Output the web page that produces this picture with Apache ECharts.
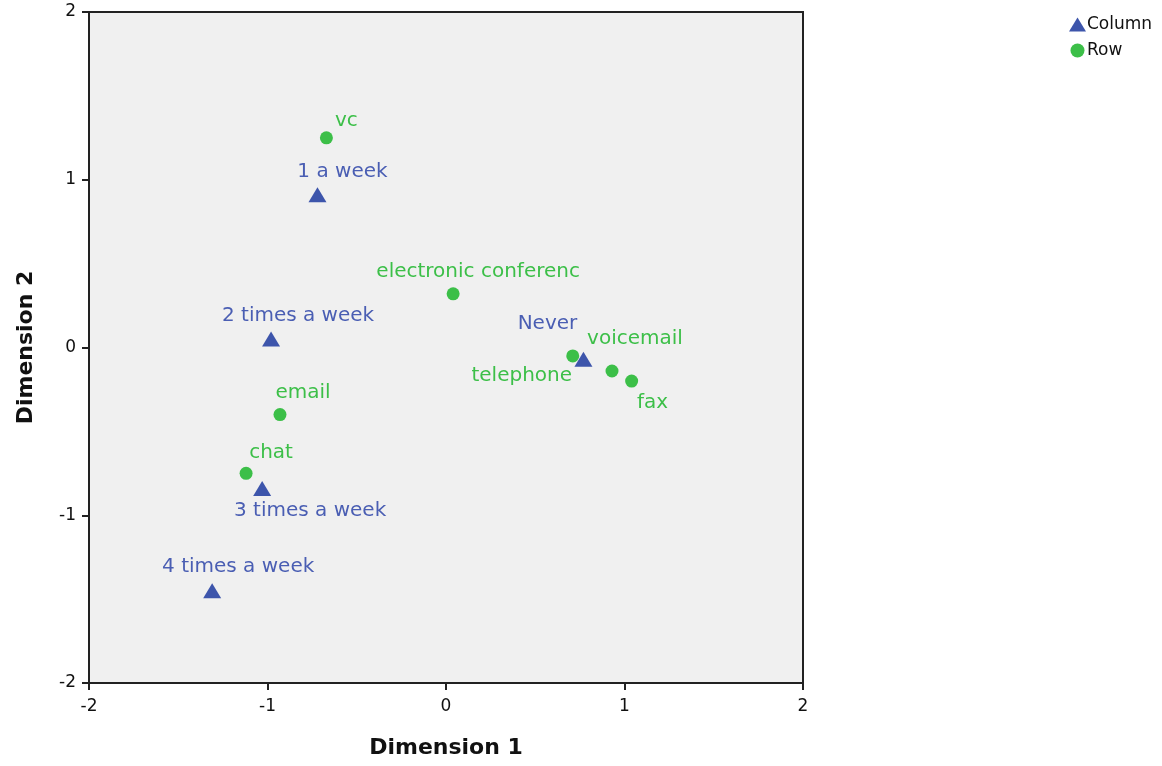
<!DOCTYPE html>
<html>
<head>
<meta charset="utf-8">
<script src="https://cdn.jsdelivr.net/npm/echarts@6/dist/echarts.min.js"></script>
<style>
  html, body { margin: 0; padding: 0; background: #fff; }
  #chart { width: 1162px; height: 766px; }
</style>
</head>
<body>
<div id="chart"></div>
<script>
// column points (frequency)
const columnNames = ["1 a week", "2 times a week", "Never", "3 times a week", "4 times a week"];
const columnDim1 = [-0.72, -0.98, 0.77, -1.03, -1.31];
const columnDim2 = [0.91, 0.05, -0.07, -0.84, -1.45];

// row points (media)
const rowNames = ["vc", "electronic conferenc", "telephone", "voicemail", "fax", "email", "chat"];
const rowDim1 = [-0.67, 0.04, 0.71, 0.93, 1.04, -0.93, -1.12];
const rowDim2 = [1.25, 0.32, -0.05, -0.14, -0.20, -0.40, -0.75];

const axisTicks = [-2, -1, 0, 1, 2];

// where each label sits relative to its marker
const labelOffset = {
  "vc": [20, -17],
  "1 a week": [25, -23],
  "electronic conferenc": [25, -22],
  "2 times a week": [27, -23],
  "Never": [-36, -35],
  "telephone": [-51, 20],
  "voicemail": [23, -32],
  "fax": [21, 22],
  "email": [23, -22],
  "chat": [25, -21],
  "3 times a week": [48, 22],
  "4 times a week": [26, -24]
};

const blue = "#3d55ab";
const green = "#3cbf48";

function points(names, xs, ys, color) {
  return names.map((n, i) => ({
    name: n,
    value: [xs[i], ys[i]],
    label: {
      show: true,
      position: "inside",
      offset: labelOffset[n],
      formatter: n,
      color: color,
      fontSize: 20,
      fontFamily: "DejaVu Sans"
    }
  }));
}

const chart = echarts.init(document.getElementById("chart"));

const axisCommon = {
  type: "value",
  min: -2,
  max: 2,
  interval: 1,
  axisLine: { show: true, onZero: false, lineStyle: { color: "#222", width: 2 } },
  axisTick: { show: true, inside: false, length: 7, lineStyle: { color: "#222", width: 2 } },
  splitLine: { show: false },
  axisLabel: {
    color: "#111",
    fontSize: 17,
    fontFamily: "DejaVu Sans",
    formatter: v => axisTicks.includes(v) ? String(v) : ""
  },
  nameLocation: "middle",
  nameTextStyle: { color: "#111", fontSize: 22, fontWeight: "bold", fontFamily: "DejaVu Sans" }
};

chart.setOption({
  animation: false,
  backgroundColor: "#fff",
  grid: {
    left: 89, top: 12, right: 359, bottom: 83,
    show: true,
    backgroundColor: "#f0f0f0",
    borderColor: "#222",
    borderWidth: 2
  },
  legend: {
    orient: "vertical",
    left: 1064,
    top: 11,
    itemGap: 9,
    itemWidth: 17,
    itemHeight: 14,
    textStyle: { color: "#111", fontSize: 17, fontFamily: "DejaVu Sans", padding: [0, 0, 0, -4] },
    data: [
      { name: "Column", icon: "triangle", itemStyle: { color: blue } },
      { name: "Row", icon: "circle", itemStyle: { color: green } }
    ]
  },
  xAxis: Object.assign({}, axisCommon, {
    name: "Dimension 1",
    nameGap: 54,
    axisLabel: Object.assign({}, axisCommon.axisLabel, { margin: 15 })
  }),
  yAxis: Object.assign({}, axisCommon, {
    name: "Dimension 2",
    nameGap: 52,
    axisLabel: Object.assign({}, axisCommon.axisLabel, { margin: 13 })
  }),
  series: [
    {
      name: "Column",
      type: "scatter",
      symbol: "triangle",
      symbolSize: [18, 15],
      itemStyle: { color: blue, opacity: 1 },
      data: points(columnNames, columnDim1, columnDim2, "#4a5eb3"),
      z: 3
    },
    {
      name: "Row",
      type: "scatter",
      symbol: "circle",
      symbolSize: 13,
      itemStyle: { color: green, opacity: 1 },
      data: points(rowNames, rowDim1, rowDim2, green),
      z: 2
    }
  ]
});
</script>
</body>
</html>
